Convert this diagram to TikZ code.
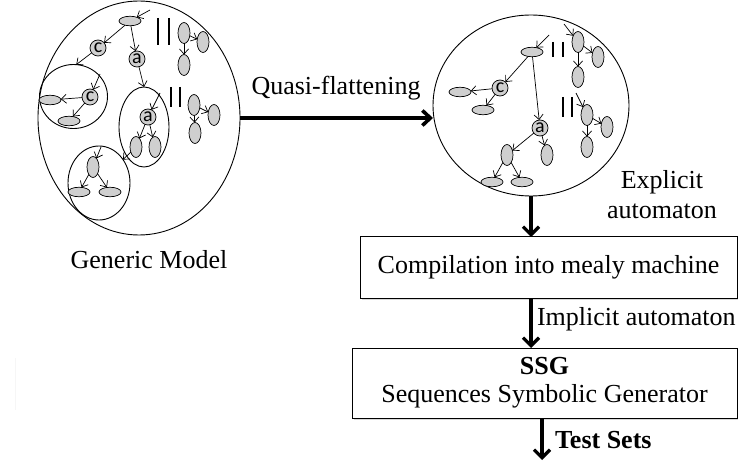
\documentclass[tikz,border=0pt]{standalone}
\usepackage{fontspec}
\setmainfont{Liberation Serif}
\newfontfamily\nodefont{Carlito}
\usetikzlibrary{arrows.meta,shapes.geometric,shadows}
\begin{document}
\begin{tikzpicture}[x=1pt,y=-1pt,
 every node/.style={inner sep=0pt, outer sep=0pt},
 hst/.style={ellipse, draw, fill=gray!38, line width=0.7pt, minimum width=22pt, minimum height=9.5pt},
 vst/.style={ellipse, draw, fill=gray!38, line width=0.7pt, minimum width=12pt, minimum height=21pt},
 cst/.style={circle, draw, fill=gray!38, line width=0.7pt, minimum size=16pt, font=\nodefont\fontsize{20}{20}\selectfont},
 cont/.style={ellipse, draw, line width=0.9pt},
 tr/.style={line width=0.7pt, -{Straight Barb[length=5pt,width=9pt]}},
 parbar/.style={line width=1.1pt},
 bigarrow/.style={line width=3.6pt, -{Straight Barb[length=8pt,width=15pt]}},
 downarrow/.style={line width=3.2pt, -{Straight Barb[length=8pt,width=16pt]}},
 procbox/.style={rectangle, draw, line width=1pt, fill=white, drop shadow={shadow xshift=2pt, shadow yshift=-2pt, fill=gray!60}},
 lbl/.style={font=\fontsize{26}{30}\selectfont, align=center}
]
\useasboundingbox (0,0) rectangle (738,462);

% faint mark at the left
\draw[gray!7, line width=1pt] (15.5,358) -- (15.5,410);

% ---- containers
\node[cont, minimum width=202pt, minimum height=234pt] (gm) at (139,118) {};
\node[cont, minimum width=196pt, minimum height=181pt] (fm) at (531,105.5) {};
\node[cont, minimum width=68pt, minimum height=64pt] (cC) at (73.5,96.5) {};
\node[cont, minimum width=50pt, minimum height=80pt] (cA) at (144,127) {};
\node[cont, minimum width=62pt, minimum height=74pt] (cB) at (99,183) {};

% ---- left model nodes
\node[hst] (t1) at (130,21) {};
\node[cst] (c1) at (98,48) {c};
\node[cst] (a1) at (137,59) {a};
\node[vst] (g1) at (184,33) {};
\node[vst] (g2) at (203,42) {};
\node[vst] (g3) at (184,65) {};
\node[cst] (c2) at (90,97) {c};
\node[hst] (h1) at (50,100) {};
\node[hst] (h2) at (69,121) {};
\node[cst] (a2) at (148,117) {a};
\node[vst] (v1) at (136,147) {};
\node[vst] (v2) at (155,147) {};
\node[vst] (g4) at (194,105) {};
\node[vst] (g5) at (214,115) {};
\node[vst] (g6) at (195,133) {};
\node[vst] (vb1) at (93,167) {};
\node[hst] (hb1) at (79,192) {};
\node[hst] (hb2) at (110,192) {};

\coordinate (i1) at (150,10);
\coordinate (i2) at (100,74);
\coordinate (i3) at (160,93);
\coordinate (i4) at (101,147);

\draw[tr] (i1) -- (t1);
\draw[tr] (t1) -- (c1);
\draw[tr] (t1) -- (a1);
\draw[tr] (c1) -- (cC.85);
\draw[tr] (a1) -- (cA.north);
\draw[tr] (g1) -- (g2);
\draw[tr] (g1) -- (g3);
\draw[tr] (i2) -- (c2);
\draw[tr] (c2) -- (h1);
\draw[tr] (c2) -- (h2);
\draw[tr] (i3) -- (a2);
\draw[tr] (a2) -- (v1);
\draw[tr] (a2) -- (v2);
\draw[tr] (v1) -- (cB);
\draw[tr] (g4) -- (g5);
\draw[tr] (g4) -- (g6);
\draw[tr] (i4) -- (vb1);
\draw[tr] (vb1) -- (hb1);
\draw[tr] (vb1) -- (hb2);

\draw[parbar] (158,18) -- (158,45) (169,18) -- (169,45);
\draw[parbar] (171,87) -- (171,107) (180,87) -- (180,107);

% ---- right (flattened) model nodes
\node[hst] (rt) at (532,52) {};
\node[cst] (rc) at (500,88) {c};
\node[hst] (rh1) at (460,92) {};
\node[hst] (rh2) at (483,110) {};
\node[cst] (ra) at (540,128) {a};
\node[vst] (rv1) at (507,155) {};
\node[vst] (rv2) at (547,155) {};
\node[hst] (rh3) at (492,182) {};
\node[hst] (rh4) at (522,182) {};
\node[vst] (rg1) at (578,42) {};
\node[vst] (rg2) at (598,57) {};
\node[vst] (rg3) at (578,77) {};
\node[vst] (rg4) at (587,115) {};
\node[vst] (rg5) at (607,127) {};
\node[vst] (rg6) at (587,147) {};

\coordinate (i5) at (549,35);
\coordinate (i6) at (564,24);
\coordinate (i7) at (576,93);

\draw[tr] (i5) -- (rt);
\draw[tr] (rt) -- (rc);
\draw[tr] (rt) -- (ra);
\draw[tr] (rc) -- (rh1);
\draw[tr] (rc) -- (rh2);
\draw[tr] (ra) -- (rv1);
\draw[tr] (ra) -- (rv2);
\draw[tr] (rv1) -- (rh3);
\draw[tr] (rv1) -- (rh4);
\draw[tr] (i6) -- (rg1);
\draw[tr] (rg1) -- (rg2);
\draw[tr] (rg1) -- (rg3);
\draw[tr] (i7) -- (rg4);
\draw[tr] (rg4) -- (rg5);
\draw[tr] (rg4) -- (rg6);

\draw[parbar] (553,42) -- (553,57) (563,42) -- (563,57);
\draw[parbar] (563,97) -- (563,117) (572,97) -- (572,117);

% ---- boxes
\node[procbox, minimum width=377pt, minimum height=61pt, lbl] (b1) at (548.5,267.5) {Compilation into mealy machine};
\node[procbox, minimum width=385pt, minimum height=70pt, lbl, font=\fontsize{26}{28}\selectfont] (b2) at (544.5,383) {\textbf{SSG}\\Sequences Symbolic Generator};
\coordinate (ts) at (542,460);

% ---- labels
\node[lbl] (lgm) at (149,260) {Generic Model};
\node[lbl] (lqf) at (336,88) {Quasi-flattening};
\node[lbl] (lex) at (662,195) {Explicit\\automaton};
\node[lbl, anchor=west] (lim) at (537,319) {Implicit automaton};
\node[lbl, anchor=west] (lts) at (555,440) {\textbf{Test Sets}};

% ---- main arrows
\draw[bigarrow] (gm.east) -- (fm.west |- gm.east);
\draw[downarrow] (fm.south) -- (fm.south |- b1.north);
\draw[downarrow] (fm.south |- b1.south) -- (fm.south |- b2.north);
\draw[downarrow] (ts |- b2.south) -- (ts);
\end{tikzpicture}
\end{document}
